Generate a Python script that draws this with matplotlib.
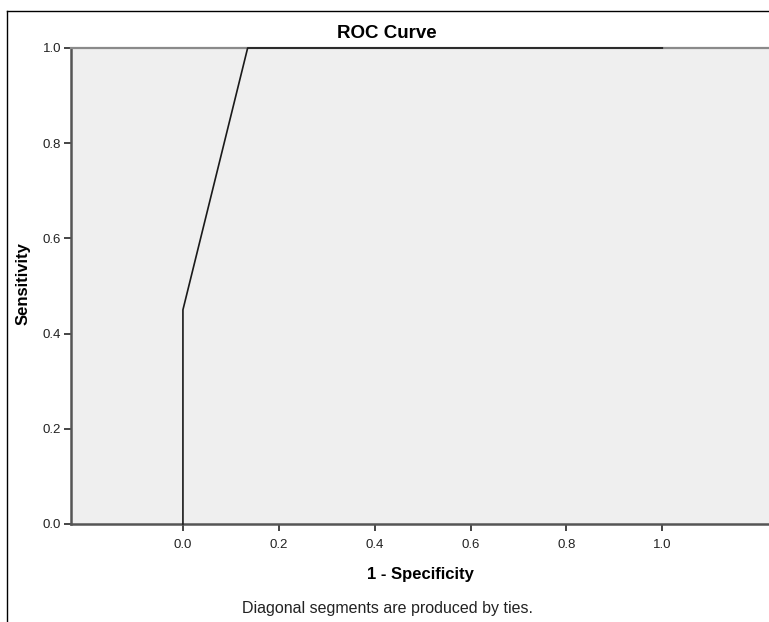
import matplotlib
matplotlib.use("Agg")
import matplotlib.pyplot as plt
from matplotlib.lines import Line2D

# ROC curve points (1 - specificity, sensitivity)
fpr = [0.0, 0.0, 0.135, 1.0]
tpr = [0.0, 0.45, 1.0, 1.0]
tick_vals = [0.0, 0.2, 0.4, 0.6, 0.8, 1.0]

plt.rcParams['font.family'] = ['Liberation Sans', 'DejaVu Sans']

W, H = 769, 622
fig = plt.figure(figsize=(W / 100, H / 100), dpi=100)
ax = fig.add_axes([71 / W, 1 - 524 / H, 1 - 71 / W + 0.002, (524 - 48) / H])
ax.set_facecolor('#efefef')

ax.plot(fpr, tpr, color='#1a1a1a', lw=1.2, clip_on=False, zorder=5)

ax.set_xlim(-0.2335, 1.2258)
ax.set_ylim(0, 1)
ax.set_xticks(tick_vals)
ax.set_yticks(tick_vals)
ax.set_xticklabels([f'{v:.1f}' for v in tick_vals])
ax.set_yticklabels([f'{v:.1f}' for v in tick_vals])
ax.tick_params(direction='out', length=5, width=1.4, color='#444444',
               labelsize=9.5, labelcolor='#222222', pad=2)
ax.tick_params(axis='x', pad=6)

ax.spines['right'].set_visible(False)
ax.spines['top'].set_color('#8a8a8a')
ax.spines['top'].set_linewidth(1.6)
for s in ('left', 'bottom'):
    ax.spines[s].set_color('#555555')
    ax.spines[s].set_linewidth(1.8)

fig.text(387 / W, 1 - 33 / H, 'ROC Curve', ha='center', va='center',
         fontsize=13.5, fontweight='bold')
fig.text(420 / W, 1 - 574 / H, '1 - Specificity', ha='center', va='center',
         fontsize=12, fontweight='bold')
fig.text(23 / W, 1 - 284 / H, 'Sensitivity', ha='center', va='center',
         rotation=90, fontsize=12, fontweight='bold')
fig.text(387 / W, 1 - 608 / H, 'Diagonal segments are produced by ties.',
         ha='center', va='center', fontsize=11.5, color='#222222')

# outer frame of the output viewer
fig.add_artist(Line2D([7 / W, 1], [1 - 11 / H, 1 - 11 / H],
                      transform=fig.transFigure, color='black', lw=1))
fig.add_artist(Line2D([7 / W, 7 / W], [0, 1 - 11 / H],
                      transform=fig.transFigure, color='black', lw=1))

fig.savefig('out.png', dpi=100)
